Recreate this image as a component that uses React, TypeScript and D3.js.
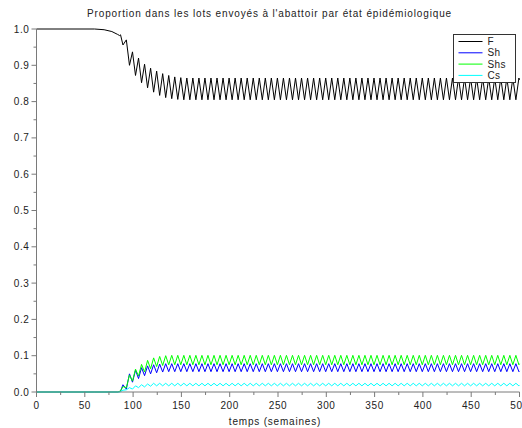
import React from "react";
import * as d3 from "d3";

// time points (weeks) — start of the decline, then the successive extremes of the oscillations
const WEEKS = [
  0, 60, 70, 78, 84, 86, 87, 89.5, 93,
  96.25, 99.375, 102.5, 105.625, 108.75, 111.875, 115, 118.125,
  121.25, 124.375, 127.5, 130.625, 133.75, 136.875, 140, 143.125,
  146.25, 149.375, 152.5, 155.625, 158.75, 161.875, 165, 168.125,
  171.25, 174.375, 177.5, 180.625, 183.75, 186.875, 190, 193.125,
  196.25, 199.375, 202.5, 205.625, 208.75, 211.875, 215, 218.125,
  221.25, 224.375, 227.5, 230.625, 233.75, 236.875, 240, 243.125,
  246.25, 249.375, 252.5, 255.625, 258.75, 261.875, 265, 268.125,
  271.25, 274.375, 277.5, 280.625, 283.75, 286.875, 290, 293.125,
  296.25, 299.375, 302.5, 305.625, 308.75, 311.875, 315, 318.125,
  321.25, 324.375, 327.5, 330.625, 333.75, 336.875, 340, 343.125,
  346.25, 349.375, 352.5, 355.625, 358.75, 361.875, 365, 368.125,
  371.25, 374.375, 377.5, 380.625, 383.75, 386.875, 390, 393.125,
  396.25, 399.375, 402.5, 405.625, 408.75, 411.875, 415, 418.125,
  421.25, 424.375, 427.5, 430.625, 433.75, 436.875, 440, 443.125,
  446.25, 449.375, 452.5, 455.625, 458.75, 461.875, 465, 468.125,
  471.25, 474.375, 477.5, 480.625, 483.75, 486.875, 490, 493.125,
  496.25, 499.375,
  500,
];

const F = [
  1, 1, 0.998, 0.993, 0.985, 0.982, 0.984, 0.956, 0.97,
  0.9, 0.937, 0.872, 0.92, 0.852, 0.903, 0.838, 0.892,
  0.826, 0.884, 0.817, 0.877, 0.811, 0.872, 0.808, 0.868,
  0.806, 0.866,
  0.805, 0.865, 0.805, 0.865, 0.805, 0.865, 0.805, 0.865, 0.805, 0.865,
  0.805, 0.865, 0.805, 0.865, 0.805, 0.865, 0.805, 0.865, 0.805, 0.865,
  0.805, 0.865, 0.805, 0.865, 0.805, 0.865, 0.805, 0.865, 0.805, 0.865,
  0.805, 0.865, 0.805, 0.865, 0.805, 0.865, 0.805, 0.865, 0.805, 0.865,
  0.805, 0.865, 0.805, 0.865, 0.805, 0.865, 0.805, 0.865, 0.805, 0.865,
  0.805, 0.865, 0.805, 0.865, 0.805, 0.865, 0.805, 0.865, 0.805, 0.865,
  0.805, 0.865, 0.805, 0.865, 0.805, 0.865, 0.805, 0.865, 0.805, 0.865,
  0.805, 0.865, 0.805, 0.865, 0.805, 0.865, 0.805, 0.865, 0.805, 0.865,
  0.805, 0.865, 0.805, 0.865, 0.805, 0.865, 0.805, 0.865, 0.805, 0.865,
  0.805, 0.865, 0.805, 0.865, 0.805, 0.865, 0.805, 0.865, 0.805, 0.865,
  0.805, 0.865, 0.805, 0.865, 0.805, 0.865, 0.805, 0.865, 0.805, 0.865,
  0.805, 0.865,
  0.86,
];

const SH = [
  0, 0, 0, 0, 0, 0.001, 0.002, 0.02, 0.008,
  0.05, 0.027, 0.06, 0.037, 0.067, 0.045, 0.072, 0.05,
  0.075, 0.053, 0.077, 0.055, 0.078, 0.056,
  0.078, 0.056, 0.078, 0.056, 0.078, 0.056, 0.078, 0.056, 0.078, 0.056,
  0.078, 0.056, 0.078, 0.056, 0.078, 0.056, 0.078, 0.056, 0.078, 0.056,
  0.078, 0.056, 0.078, 0.056, 0.078, 0.056, 0.078, 0.056, 0.078, 0.056,
  0.078, 0.056, 0.078, 0.056, 0.078, 0.056, 0.078, 0.056, 0.078, 0.056,
  0.078, 0.056, 0.078, 0.056, 0.078, 0.056, 0.078, 0.056, 0.078, 0.056,
  0.078, 0.056, 0.078, 0.056, 0.078, 0.056, 0.078, 0.056, 0.078, 0.056,
  0.078, 0.056, 0.078, 0.056, 0.078, 0.056, 0.078, 0.056, 0.078, 0.056,
  0.078, 0.056, 0.078, 0.056, 0.078, 0.056, 0.078, 0.056, 0.078, 0.056,
  0.078, 0.056, 0.078, 0.056, 0.078, 0.056, 0.078, 0.056, 0.078, 0.056,
  0.078, 0.056, 0.078, 0.056, 0.078, 0.056, 0.078, 0.056, 0.078, 0.056,
  0.078, 0.056, 0.078, 0.056, 0.078, 0.056, 0.078, 0.056, 0.078, 0.056,
  0.078, 0.056, 0.078, 0.056, 0.078, 0.056,
  0.058,
];

const SHS = [
  0, 0, 0, 0, 0, 0.002, 0.003, 0.015, 0.012,
  0.047, 0.03, 0.063, 0.044, 0.076, 0.055, 0.087, 0.064,
  0.094, 0.07, 0.098, 0.073, 0.1, 0.075,
  0.101, 0.075, 0.101, 0.075, 0.101, 0.075, 0.101, 0.075, 0.101, 0.075,
  0.101, 0.075, 0.101, 0.075, 0.101, 0.075, 0.101, 0.075, 0.101, 0.075,
  0.101, 0.075, 0.101, 0.075, 0.101, 0.075, 0.101, 0.075, 0.101, 0.075,
  0.101, 0.075, 0.101, 0.075, 0.101, 0.075, 0.101, 0.075, 0.101, 0.075,
  0.101, 0.075, 0.101, 0.075, 0.101, 0.075, 0.101, 0.075, 0.101, 0.075,
  0.101, 0.075, 0.101, 0.075, 0.101, 0.075, 0.101, 0.075, 0.101, 0.075,
  0.101, 0.075, 0.101, 0.075, 0.101, 0.075, 0.101, 0.075, 0.101, 0.075,
  0.101, 0.075, 0.101, 0.075, 0.101, 0.075, 0.101, 0.075, 0.101, 0.075,
  0.101, 0.075, 0.101, 0.075, 0.101, 0.075, 0.101, 0.075, 0.101, 0.075,
  0.101, 0.075, 0.101, 0.075, 0.101, 0.075, 0.101, 0.075, 0.101, 0.075,
  0.101, 0.075, 0.101, 0.075, 0.101, 0.075, 0.101, 0.075, 0.101, 0.075,
  0.101, 0.075, 0.101, 0.075, 0.101, 0.075,
  0.078,
];

const CS = [
  0, 0, 0, 0, 0, 0, 0.001, 0.005, 0.006,
  0.012, 0.008, 0.017, 0.012, 0.02, 0.014, 0.022, 0.016,
  0.024, 0.017,
  0.024, 0.017, 0.024, 0.017, 0.024, 0.017, 0.024, 0.017, 0.024, 0.017,
  0.024, 0.017, 0.024, 0.017, 0.024, 0.017, 0.024, 0.017, 0.024, 0.017,
  0.024, 0.017, 0.024, 0.017, 0.024, 0.017, 0.024, 0.017, 0.024, 0.017,
  0.024, 0.017, 0.024, 0.017, 0.024, 0.017, 0.024, 0.017, 0.024, 0.017,
  0.024, 0.017, 0.024, 0.017, 0.024, 0.017, 0.024, 0.017, 0.024, 0.017,
  0.024, 0.017, 0.024, 0.017, 0.024, 0.017, 0.024, 0.017, 0.024, 0.017,
  0.024, 0.017, 0.024, 0.017, 0.024, 0.017, 0.024, 0.017, 0.024, 0.017,
  0.024, 0.017, 0.024, 0.017, 0.024, 0.017, 0.024, 0.017, 0.024, 0.017,
  0.024, 0.017, 0.024, 0.017, 0.024, 0.017, 0.024, 0.017, 0.024, 0.017,
  0.024, 0.017, 0.024, 0.017, 0.024, 0.017, 0.024, 0.017, 0.024, 0.017,
  0.024, 0.017, 0.024, 0.017, 0.024, 0.017, 0.024, 0.017, 0.024, 0.017,
  0.024, 0.017, 0.024, 0.017, 0.024, 0.017, 0.024, 0.017, 0.024, 0.017,
  0.018,
];

const SERIES_NAMES = ["F", "Sh", "Shs", "Cs"];
const X_TICKS = [0, 50, 100, 150, 200, 250, 300, 350, 400, 450, 500];
const X_MINOR = [25, 75, 125, 175, 225, 275, 325, 375, 425, 475];
const Y_TICKS = [0, 0.1, 0.2, 0.3, 0.4, 0.5, 0.6, 0.7, 0.8, 0.9, 1.0];
const Y_MINOR = [0.05, 0.15, 0.25, 0.35, 0.45, 0.55, 0.65, 0.75, 0.85, 0.95];
const TITLE = "Proportion dans les lots envoyés à l'abattoir par état épidémiologique";
const X_LABEL = "temps (semaines)";

const W = 522;
const H = 428;
const FONT = "'Liberation Sans', Arial, Helvetica, sans-serif";
const AXIS_COLOR = "#7a7a7a";

export default function App() {
  const x = d3.scaleLinear().domain([0, 500]).range([36.5, 519.5]);
  const y = d3.scaleLinear().domain([0, 1]).range([392, 29]);

  const seriesValues = [F, SH, SHS, CS];
  const colors = ["#000000", "#0000ff", "#00ff00", "#00ffff"];

  const line = d3
    .line<number>()
    .x((_, i) => x(WEEKS[i]))
    .y((d) => y(d));

  const legendX = 453.5;
  const legendY = 34.5;

  return (
    <svg
      width={W}
      height={H}
      style={{ position: "absolute", left: 0, top: 0, background: "#fff" }}
      fontFamily={FONT}
    >
      <rect x={0} y={0} width={W} height={H} fill="#ffffff" />
      <text
        x={269.5}
        y={17}
        textAnchor="middle"
        fontSize={10}
        letterSpacing={0.85}
        fill="#222"
      >
        {TITLE}
      </text>

      {seriesValues.map((vals, k) => (
        <path
          key={SERIES_NAMES[k]}
          d={line(vals) || ""}
          fill="none"
          stroke={colors[k]}
          strokeWidth={1}
        />
      ))}

      {/* axes */}
      <line x1={x(0)} x2={x(0)} y1={y(0)} y2={y(1)} stroke={AXIS_COLOR} strokeWidth={1} />
      <line x1={x(0)} x2={x(500)} y1={y(0)} y2={y(0)} stroke={AXIS_COLOR} strokeWidth={1} />
      {Y_TICKS.map((t) => (
        <g key={"y" + t}>
          <line x1={x(0) - 5} x2={x(0)} y1={y(t)} y2={y(t)} stroke={AXIS_COLOR} />
          <text
            x={x(0) - 7}
            y={y(t) + 3.5}
            textAnchor="end"
            fontSize={10}
            letterSpacing={0.6}
            fill="#222"
          >
            {t.toFixed(1)}
          </text>
        </g>
      ))}
      {Y_MINOR.map((t) => (
        <line key={"ym" + t} x1={x(0) - 3} x2={x(0)} y1={y(t)} y2={y(t)} stroke={AXIS_COLOR} />
      ))}
      {X_TICKS.map((t) => (
        <g key={"x" + t}>
          <line x1={x(t)} x2={x(t)} y1={y(0)} y2={y(0) + 5} stroke={AXIS_COLOR} />
          <text
            x={x(t)}
            y={y(0) + 17}
            textAnchor="middle"
            fontSize={10}
            letterSpacing={0.6}
            fill="#222"
          >
            {t}
          </text>
        </g>
      ))}
      {X_MINOR.map((t) => (
        <line key={"xm" + t} x1={x(t)} x2={x(t)} y1={y(0)} y2={y(0) + 3} stroke={AXIS_COLOR} />
      ))}
      <text x={275} y={425} textAnchor="middle" fontSize={10} letterSpacing={0.8} fill="#222">
        {X_LABEL}
      </text>

      {/* legend */}
      <rect x={legendX} y={legendY} width={62} height={48} fill="#fff" stroke="#333" strokeWidth={1} />
      {SERIES_NAMES.map((name, k) => (
        <g key={"lg" + name}>
          <line
            x1={legendX + 5}
            x2={legendX + 29}
            y1={legendY + 7 + k * 11.3}
            y2={legendY + 7 + k * 11.3}
            stroke={colors[k]}
            strokeWidth={1}
          />
          <text x={legendX + 34} y={legendY + 10.5 + k * 11.3} fontSize={10} letterSpacing={0.4} fill="#222">
            {name}
          </text>
        </g>
      ))}
    </svg>
  );
}
